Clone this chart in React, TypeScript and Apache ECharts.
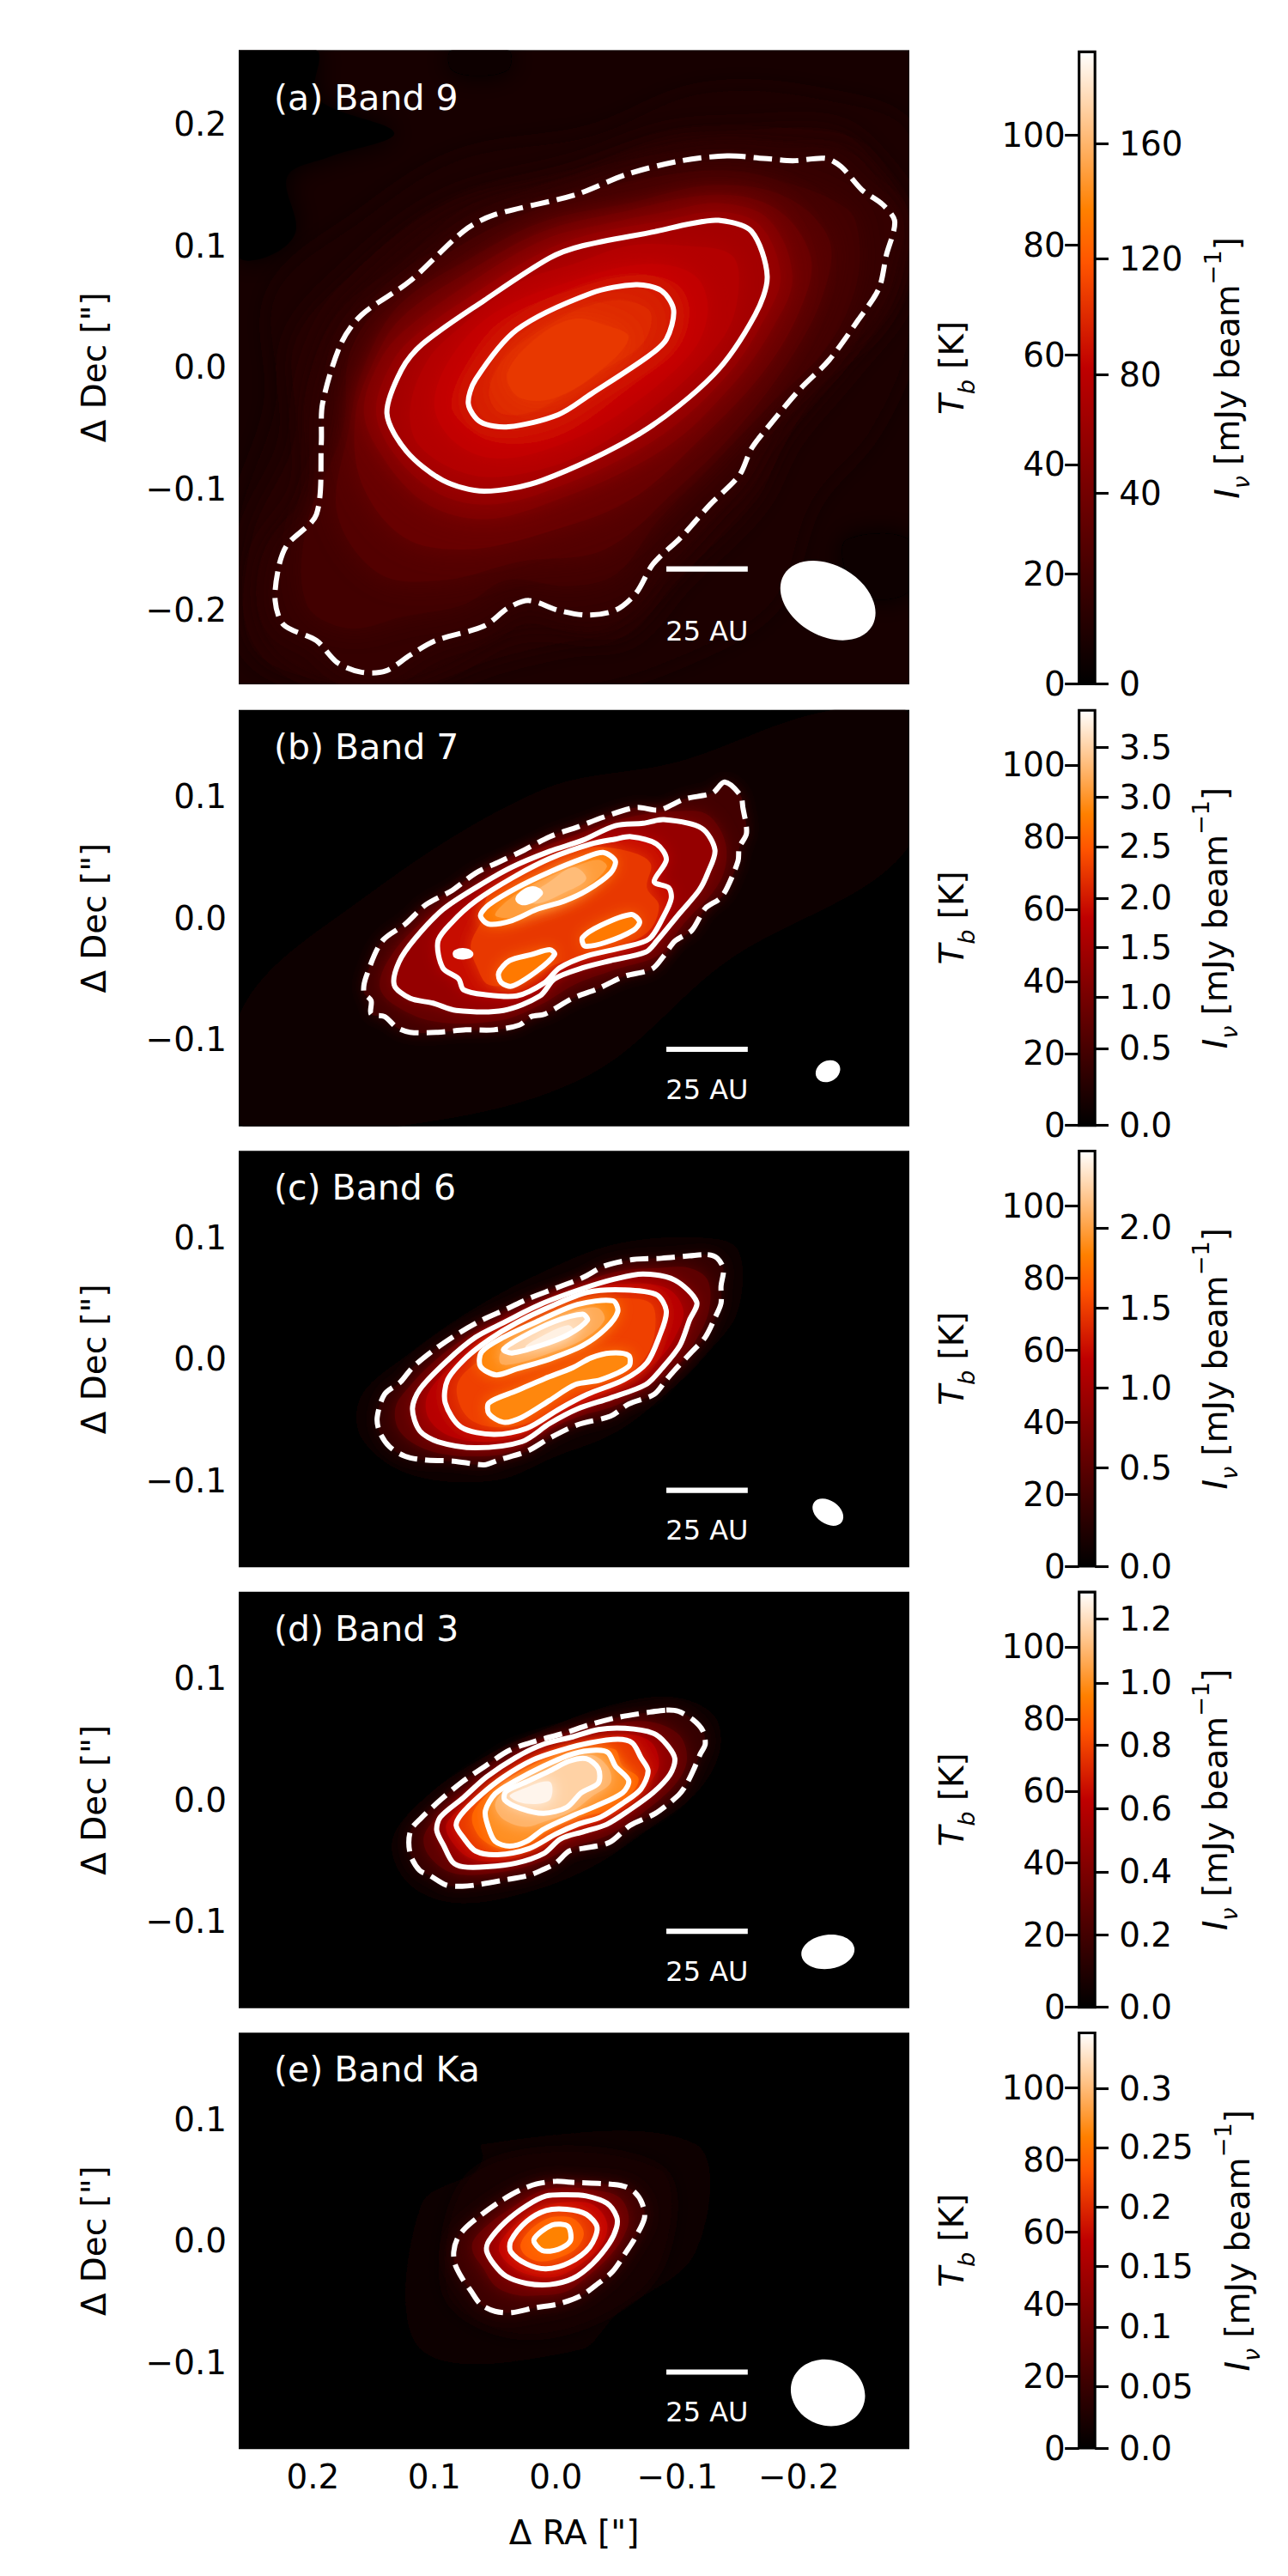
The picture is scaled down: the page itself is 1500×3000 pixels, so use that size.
import React, { useEffect, useRef } from "react";
import * as echarts from "echarts";

// All sky offsets below are in milli-arcseconds [dRA, dDec]; brightness levels in kelvin.
const T_MAX = 115.2;
const TB_TICKS = [0, 20, 40, 60, 80, 100];
const RA_TICKS = [-0.2, -0.1, 0, 0.1, 0.2];
const DEC_TICKS_WIDE = [-0.2, -0.1, 0, 0.1, 0.2];
const DEC_TICKS = [-0.1, 0, 0.1];

const ivLabelsA = ["0", "40", "80", "120", "160"];
const ivTbA = [0, 34.8, 56.4, 77.5, 98.4];
const ivLabelsB = ["0.0", "0.5", "1.0", "1.5", "2.0", "2.5", "3.0", "3.5"];
const ivTbB = [0, 21.4, 35.5, 49.4, 63.1, 77.4, 91.1, 105.0];
const ivLabelsC = ["0.0", "0.5", "1.0", "1.5", "2.0"];
const ivTbC = [0, 27.3, 49.4, 71.7, 93.9];
const ivLabelsD = ["0.0", "0.2", "0.4", "0.6", "0.8", "1.0", "1.2"];
const ivTbD = [0, 20.1, 37.6, 55.1, 72.7, 90.0, 107.7];
const ivLabelsE = ["0.0", "0.05", "0.1", "0.15", "0.2", "0.25", "0.3"];
const ivTbE = [0, 17.1, 33.6, 50.4, 66.9, 83.4, 99.7];

// ---- Band 9 ----
const a1 = [[-141,174],[-171,172],[-195,170],[-222,172],[-235,165],[-252,146],[-269,134],[-279,120],[-272,92],[-266,65],[-249,39],[-225,6],[-201,-18],[-174,-50],[-161,-67],[-151,-89],[-127,-113],[-103,-140],[-80,-162],[-66,-186],[-49,-200],[-26,-204],[-2,-200],[22,-192],[39,-198],[59,-213],[99,-225],[120,-237],[140,-250],[160,-251],[180,-243],[197,-225],[224,-212],[231,-192],[228,-164],[221,-146],[197,-121],[193,-62],[192,-30],[177,19],[160,43],[120,71],[76,112],[52,125],[-16,142],[-59,159],[-103,170]];
const a2 = [[-134,121],[-161,112],[-174,75],[-164,43],[-130,-6],[-70,-54],[11,-93],[59,-102],[93,-93],[123,-69],[139,-38],[127,-2],[110,19],[59,55],[5,90],[-22,100],[-83,112],[-110,118]];
const a3 = [[-66,68],[-87,63],[-97,47],[-91,23],[-76,9],[-29,-22],[-2,-39],[39,-49],[62,-45],[72,-30],[66,-10],[32,31],[-29,61]];
const aBase = [[261,261],[-291,261],[-291,-261],[261,-261]];
const aDarkTL = [[261,261],[197,261],[197,222],[133,193],[187,173],[221,157],[214,112],[235,92],[261,92]];
const aDarkTop = [[86,261],[39,261],[39,245],[65,240],[86,245]];
const aDarkBR = [[-239,-142],[-291,-142],[-291,-184],[-255,-190],[-239,-170]];
const aL11 = [[-120,225],[-220,220],[-291,190],[-291,30],[-260,-50],[-210,-110],[-180,-190],[-120,-230],[-20,-261],[261,-261],[261,-130],[230,-30],[230,60],[160,120],[80,170],[-30,190]];
const aL14 = [[-150,195],[-230,195],[-262,170],[-291,125],[-285,60],[-240,0],[-190,-60],[-165,-110],[-100,-175],[-60,-220],[-15,-225],[50,-240],[110,-261],[180,-261],[250,-230],[250,-140],[215,-60],[215,20],[170,75],[90,135],[-20,165],[-90,190]];
const aL17 = [[-145,185],[-200,182],[-245,175],[-265,150],[-285,120],[-280,80],[-260,35],[-215,0],[-185,-40],[-160,-88],[-115,-140],[-75,-185],[-40,-215],[5,-212],[40,-215],[95,-245],[140,-258],[180,-258],[235,-225],[242,-160],[205,-100],[205,-30],[190,25],[165,60],[85,125],[-15,155],[-90,180]];
const aL25 = [[-135,162],[-180,155],[-240,130],[-250,100],[-245,60],[-222,15],[-172,-35],[-125,-85],[-85,-125],[-50,-170],[-10,-180],[40,-175],[75,-195],[125,-205],[170,-215],[205,-195],[205,-130],[175,-50],[170,10],[145,50],[95,90],[40,120],[-40,148],[-90,158]];
const aL30 = [[-130,150],[-190,140],[-225,105],[-220,60],[-195,10],[-150,-50],[-100,-100],[-40,-150],[30,-160],[90,-175],[145,-170],[180,-120],[170,-50],[160,-5],[130,50],[70,90],[10,120],[-60,135]];
const aL35 = [[-132,142],[-182,130],[-210,90],[-200,45],[-170,-5],[-118,-60],[-60,-110],[15,-138],[75,-150],[125,-140],[160,-95],[165,-40],[152,0],[128,40],[70,80],[10,112],[-50,127]];
const aL40 = [[-135,135],[-175,122],[-195,75],[-180,35],[-145,-15],[-85,-70],[15,-115],[65,-125],[110,-110],[145,-70],[158,-35],[145,5],[125,30],[70,70],[10,105],[-40,118],[-90,128]];
const aL45 = [[-134,128],[-168,117],[-185,75],[-172,40],[-138,-10],[-78,-62],[13,-104],[62,-113],[100,-102],[134,-70],[148,-36],[136,2],[117,25],[65,62],[7,97],[-30,110],[-85,120]];
const aL54 = [[-105,100],[-145,92],[-150,60],[-138,25],[-90,-25],[-25,-70],[30,-88],[72,-88],[112,-65],[120,-35],[106,5],[80,32],[30,70],[-15,85],[-60,100]];
const aL58 = [[-75,85],[-115,75],[-125,45],[-110,10],[-50,-40],[0,-65],[50,-75],[85,-60],[100,-30],[85,10],[50,45],[-10,70]];
const aL61 = [[-70,76],[-100,68],[-110,46],[-100,15],[-63,-15],[-15,-50],[20,-62],[55,-60],[78,-45],[86,-30],[75,0],[45,38],[-20,66]];
const aL67 = [[-55,55],[-78,45],[-70,18],[-20,-12],[15,-35],[45,-38],[55,-20],[40,10],[0,38],[-25,50]];
const aL69 = [[-40,35],[-60,25],[-40,0],[0,-25],[30,-25],[40,-5],[15,25],[-15,40]];
const fillsA = [
  { tb: 7, ring: aBase }, { tb: 0, ring: aDarkTL }, { tb: 2, ring: aDarkTop }, { tb: 2, ring: aDarkBR },
  { tb: 9, ring: aL11 }, { tb: 11, ring: aL14 }, { tb: 13, ring: aL17 }, { tb: 16, ring: a1 }, { tb: 20, ring: aL25 }, { tb: 25, ring: aL30 },
  { tb: 31, ring: aL35 }, { tb: 37, ring: aL40 }, { tb: 43, ring: aL45 }, { tb: 49, ring: a2 }, { tb: 54, ring: aL54 }, { tb: 58, ring: aL58 },
  { tb: 61, ring: aL61 }, { tb: 64, ring: a3 }, { tb: 67, ring: aL67 }, { tb: 70, ring: aL69 },
];
const dashedA = [a1];
const solidA = [a2, a3];

// ---- Band 7 ----
const b1 = [[-139,112],[-152,101],[-154,91],[-157,70],[-151,58],[-150,47],[-141,25],[-135,16],[-123,8],[-112,-10],[-98,-19],[-89,-31],[-79,-42],[-56,-48],[-35,-58],[-14,-66],[9,-79],[20,-81],[30,-88],[51,-92],[74,-92],[97,-94],[120,-94],[131,-90],[141,-81],[152,-79],[152,-68],[158,-61],[156,-48],[143,-19],[124,-5],[107,11],[85,23],[66,37],[45,47],[26,56],[5,67],[-18,75],[-39,83],[-66,91],[-85,89],[-106,98],[-129,103]];
const b2 = [[-89,81],[-120,74],[-131,56],[-125,37],[-118,23],[-102,4],[-83,-19],[-74,-28],[-45,-35],[-22,-41],[1,-50],[13,-64],[43,-76],[82,-76],[101,-70],[120,-66],[133,-55],[129,-36],[116,-17],[93,7],[66,25],[36,42],[5,55],[-22,64],[-49,76],[-72,78]];
const b3 = [[-62,67],[-83,61],[-91,48],[-81,30],[-93,25],[-95,16],[-89,2],[-77,-17],[-56,-24],[-26,-31],[-3,-41],[9,-53],[32,-64],[59,-63],[76,-59],[80,-50],[93,-41],[97,-19],[85,-3],[66,14],[36,33],[5,49],[-29,61],[-49,65]];
const b4a = [[-39,54],[-49,47],[-45,37],[-26,23],[-7,14],[16,7],[36,-2],[55,-5],[62,2],[55,11],[32,25],[5,38],[-22,49]];
const b4b = [[-62,3],[-69,-3],[-64,-10],[-41,-20],[-24,-23],[-22,-16],[-37,-6]];
const b4c = [[5,-26],[1,-30],[16,-44],[36,-56],[45,-53],[47,-45],[38,-35],[20,-30]];
const b4d = [[82,-28],[74,-27],[70,-30],[76,-32],[82,-31]];
const b5 = [[15,23],[13,20],[24,13],[31,15],[28,20],[20,24]];
const bBand = [[258,-74],[166,11],[13,105],[-102,129],[-217,169],[-290,169],[-290,58],[-140,-36],[-26,-130],[127,-171],[258,-171]];
const bL30 = [[-125,85],[-140,60],[-135,30],[-105,-5],[-85,-30],[-50,-42],[-15,-55],[10,-70],[45,-84],[100,-85],[135,-70],[145,-55],[135,-30],[110,-3],[75,22],[35,48],[-15,68],[-60,83],[-100,88]];
const bL70 = [[-60,55],[-78,45],[-75,25],[-85,10],[-75,-12],[-40,-27],[0,-38],[25,-52],[55,-55],[65,-40],[70,-22],[60,0],[55,20],[15,45],[-25,58]];
const bL93 = [[-35,48],[-42,42],[-25,25],[-5,13],[25,3],[40,0],[50,3],[35,18],[10,32],[-15,42]];
const bL100 = [[-15,42],[-25,32],[-5,20],[15,12],[25,15],[5,30]];
const fillsB = [
  { tb: 3, ring: bBand }, { tb: 20, ring: b1 }, { tb: 30, ring: bL30 },
  { tb: 45, ring: b2 }, { tb: 60, ring: b3 }, { tb: 70, ring: bL70 },
  { tb: 85, ring: b4a }, { tb: 85, ring: b4b }, { tb: 85, ring: b4c },
  { tb: 93, ring: bL93 }, { tb: 100, ring: bL100 },
];
const dashedB = [b1];
const solidB = [b2, b3, b4a, b4b, b4c, b4d, b5];
const whiteDotsB = [b4d, b5];

// ---- Band 6 ----
const c1 = [[-125,86],[-133,83],[-138,74],[-136,60],[-136,46],[-131,34],[-123,18],[-112,6],[-97,-10],[-91,-17],[-81,-29],[-60,-37],[-45,-47],[-18,-54],[5,-65],[24,-76],[47,-83],[59,-87],[84,-84],[108,-83],[124,-80],[137,-72],[145,-60],[147,-48],[141,-29],[128,-19],[118,-7],[101,7],[82,20],[61,32],[41,41],[22,50],[1,58],[-22,67],[-41,77],[-64,82],[-87,83],[-110,85]];
const c2 = [[-72,70],[-98,65],[-116,47],[-110,32],[-102,11],[-87,-8],[-74,-21],[-45,-32],[-18,-41],[5,-53],[28,-68],[66,-73],[97,-68],[112,-59],[118,-41],[112,-25],[89,-1],[66,18],[43,30],[13,45],[-22,58],[-49,66]];
const c3 = [[-56,57],[-83,53],[-91,39],[-85,18],[-75,-3],[-56,-17],[-26,-29],[-3,-41],[24,-57],[51,-62],[78,-56],[91,-36],[89,-17],[74,1],[55,16],[32,30],[5,43],[-26,55]];
const c4a = [[-47,48],[-51,39],[-41,25],[-22,11],[5,0],[32,-8],[49,-13],[62,-6],[61,6],[43,18],[13,32],[-18,45]];
const c4b = [[-45,5],[-60,3],[-60,-6],[-37,-17],[-16,-21],[5,-34],[28,-48],[43,-52],[55,-45],[55,-36],[32,-26],[9,-16],[-14,-7],[-29,1]];
const c5 = [[-22,37],[-26,32],[-10,20],[13,11],[36,5],[43,8],[28,18],[1,31]];
const cGlow = [[-120,100],[-150,90],[-150,40],[-125,5],[-95,-25],[-50,-60],[0,-80],[50,-100],[120,-95],[160,-65],[160,-30],[120,5],[70,40],[10,72],[-50,95]];
const cL30 = [[-110,75],[-125,65],[-126,40],[-115,15],[-100,-5],[-75,-23],[-50,-38],[-20,-47],[10,-60],[35,-76],[70,-80],[105,-75],[128,-60],[132,-40],[120,-22],[98,0],[75,17],[50,30],[22,43],[-15,60],[-50,72],[-85,75]];
const cL55 = [[-60,62],[-92,58],[-105,40],[-98,18],[-85,0],[-62,-18],[-32,-32],[0,-46],[28,-62],[58,-68],[88,-63],[105,-48],[105,-28],[82,-2],[60,17],[37,30],[8,44],[-25,57]];
const cL72 = [[-52,50],[-78,46],[-82,28],[-76,5],[-60,-12],[-30,-24],[-5,-37],[20,-52],[50,-56],[70,-50],[80,-35],[80,-18],[62,0],[45,14],[10,35],[-22,47]];
const cL96 = [[-35,42],[-40,32],[-22,16],[5,5],[30,-3],[45,-4],[45,6],[28,16],[5,28],[-18,40]];
const cL112 = [[-10,28],[-15,22],[10,12],[25,10],[15,17]];
const fillsC = [
  { tb: 3, ring: cGlow }, { tb: 15, ring: c1 }, { tb: 28, ring: cL30 }, { tb: 43, ring: c2 }, { tb: 55, ring: cL55 },
  { tb: 65, ring: c3 }, { tb: 72, ring: cL72 }, { tb: 88, ring: c4a }, { tb: 88, ring: c4b },
  { tb: 96, ring: cL96 }, { tb: 106, ring: c5 }, { tb: 112, ring: cL112 },
];
const dashedC = [c1];
const solidC = [c2, c3, c4a, c4b, c5];

// ---- Band 3 ----
const d1 = [[-91,74],[-101,73],[-113,66],[-121,57],[-123,46],[-119,38],[-113,24],[-107,12],[-101,4],[-82,-11],[-61,-21],[-44,-35],[-21,-40],[-11,-42],[0,-52],[10,-57],[22,-62],[43,-66],[66,-70],[77,-71],[90,-70],[104,-62],[112,-58],[119,-47],[121,-35],[119,-24],[111,-15],[95,0],[77,15],[58,28],[38,41],[15,49],[-7,55],[-28,62],[-51,68],[-75,72]];
const d2 = [[-57,59],[-80,55],[-91,46],[-98,34],[-94,21],[-80,6],[-61,-8],[-42,-20],[-23,-26],[-4,-32],[10,-44],[33,-52],[57,-55],[76,-55],[85,-51],[92,-38],[98,-25],[95,-14],[76,2],[57,19],[33,35],[10,46],[-14,52],[-35,58]];
const d3 = [[-51,50],[-63,47],[-70,35],[-76,24],[-70,9],[-56,-2],[-37,-14],[-18,-20],[0,-28],[22,-40],[48,-45],[66,-42],[76,-31],[82,-21],[78,-12],[62,4],[43,19],[19,33],[-4,41],[-28,47]];
const d4 = [[-43,39],[-49,28],[-60,16],[-55,6],[-33,-5],[-16,-12],[10,-24],[24,-34],[38,-38],[50,-34],[56,-21],[58,-9],[50,5],[33,16],[10,28],[-14,38],[-33,41]];
const d5 = [[-25,34],[-35,26],[-35,14],[-21,6],[-9,-6],[10,-11],[29,-7],[42,0],[41,7],[24,15],[5,24],[-11,32]];
const dGlow = [[-95,85],[-130,70],[-135,40],[-115,5],[-75,-25],[-30,-55],[20,-75],[80,-85],[120,-70],[135,-35],[110,0],[60,35],[10,58],[-45,78]];
const dL30 = [[-70,65],[-100,55],[-108,35],[-100,15],[-75,-8],[-45,-28],[-10,-40],[15,-52],[50,-60],[85,-60],[105,-45],[108,-28],[90,-7],[65,15],[40,32],[10,47],[-25,56]];
const dL55 = [[-55,54],[-78,48],[-85,30],[-78,15],[-60,-5],[-35,-18],[-8,-27],[15,-40],[45,-50],[70,-48],[85,-35],[90,-20],[70,0],[50,17],[25,33],[-5,45]];
const dL80 = [[-48,42],[-55,28],[-68,18],[-62,5],[-45,-8],[-17,-15],[5,-25],[25,-37],[45,-40],[60,-33],[68,-21],[68,-10],[56,5],[38,18],[15,31],[-10,40]];
const dL98 = [[-30,37],[-43,27],[-45,14],[-30,3],[-14,-9],[10,-18],[25,-22],[43,-16],[50,-5],[45,5],[28,14],[7,25],[-12,34]];
const dL113 = [[5,15],[30,8],[38,3],[25,-3],[5,0]];
const fillsD = [
  { tb: 3, ring: dGlow }, { tb: 16, ring: d1 }, { tb: 28, ring: dL30 }, { tb: 42, ring: d2 }, { tb: 55, ring: dL55 },
  { tb: 70, ring: d3 }, { tb: 80, ring: dL80 }, { tb: 90, ring: d4 }, { tb: 98, ring: dL98 }, { tb: 105, ring: d5 }, { tb: 113, ring: dL113 },
];
const dashedD = [d1];
const solidD = [d2, d3, d4, d5];

// ---- Band Ka ----
const e1 = [[0,49],[-16,48],[-40,47],[-56,45],[-65,40],[-71,31],[-73,19],[-65,2],[-58,-9],[-47,-25],[-35,-35],[-21,-45],[-2,-52],[17,-55],[36,-59],[50,-58],[62,-52],[70,-41],[77,-31],[83,-19],[84,-9],[81,2],[74,11],[62,21],[45,33],[29,42],[15,47]];
const e2 = [[-9,38],[-25,37],[-42,31],[-50,20],[-50,11],[-44,-2],[-30,-19],[-14,-31],[5,-36],[24,-35],[41,-29],[51,-19],[57,-8],[55,0],[41,16],[24,29],[8,37]];
const e3 = [[-9,26],[-25,22],[-34,11],[-28,-5],[-11,-18],[8,-23],[24,-19],[37,-9],[37,0],[24,16],[8,25]];
const e4 = [[3,13],[-10,12],[-12,0],[-2,-7],[11,-8],[18,1]];
const eBroad = [[111,-90],[111,30],[60,60],[60,80],[-115,80],[-115,-10],[-50,-60],[-20,-90]];
const eGlow = [[62,59],[-85,59],[-85,-20],[-30,-65],[40,-75],[90,-40]];
const eL30 = [[-5,44],[-30,42],[-52,36],[-60,20],[-55,2],[-42,-15],[-25,-30],[-8,-42],[15,-45],[35,-44],[50,-37],[60,-22],[68,-10],[68,0],[55,14],[35,28],[15,40]];
const eL58 = [[-8,32],[-30,30],[-42,15],[-38,-3],[-22,-18],[-2,-29],[18,-29],[35,-22],[46,-10],[45,0],[30,16],[10,28]];
const eL78 = [[0,20],[-15,18],[-23,7],[-18,-5],[-5,-13],[12,-17],[25,-12],[29,-3],[20,10],[8,18]];
const fillsE = [
  { tb: 2, ring: eBroad }, { tb: 6, ring: eGlow }, { tb: 18, ring: e1 }, { tb: 30, ring: eL30 }, { tb: 45, ring: e2 },
  { tb: 58, ring: eL58 }, { tb: 68, ring: e3 }, { tb: 78, ring: eL78 }, { tb: 87, ring: e4 },
];
const dashedE = [e1];
const solidE = [e2, e3, e4];

// Restoring beams: [dRA, dDec, semi-major, semi-minor, angle in degrees]
const beamA = [-224, -192, 42, 29, -30];
const beamB = [-224, -126, 10.6, 8.5, 30];
const beamC = [-224, -126, 14, 9.5, -35];
const beamD = [-224, -125, 22, 14, 8];
const beamE = [-224, -125, 31, 27, -20];
// Scale bar (25 AU): dRA from, dRA to
const scaleBarRA = [-91, -158];

const titles = ["(a) Band 9", "(b) Band 7", "(c) Band 6", "(d) Band 3", "(e) Band Ka"];
const FONT = "DejaVu Sans";
const FS = 38.9;

function gistHeat(tb: number) {
  const x = Math.min(1, Math.max(0, tb / T_MAX));
  const ch = (v: number) => Math.round(255 * Math.min(1, Math.max(0, v)));
  return `rgb(${ch(1.5 * x)},${ch(2 * x - 1)},${ch(4 * x - 3)})`;
}

const panels = [
  { top: 58.5, h: 738.5, ylim: 0.261, decTicks: DEC_TICKS_WIDE, fills: fillsA, dashed: dashedA, solid: solidA, dots: [] as number[][][], beam: beamA, barDec: -166, barLabelDec: -217, titleDec: 222, blur: 30, iv: ivLabelsA, ivTb: ivTbA, ivGap: 124, cbH: 736, cbBottom: 796.4 },
  { top: 826.7, h: 485, ylim: 0.1714, decTicks: DEC_TICKS, fills: fillsB, dashed: dashedB, solid: solidB, dots: whiteDotsB, beam: beamB, barDec: -108, barLabelDec: -141, titleDec: 141, blur: 18, iv: ivLabelsB, ivTb: ivTbB, ivGap: 110, cbH: 483.5, cbBottom: 1310.7 },
  { top: 1340.3, h: 485, ylim: 0.1714, decTicks: DEC_TICKS, fills: fillsC, dashed: dashedC, solid: solidC, dots: [], beam: beamC, barDec: -108, barLabelDec: -141, titleDec: 141, blur: 18, iv: ivLabelsC, ivTb: ivTbC, ivGap: 110, cbH: 483.5, cbBottom: 1824 },
  { top: 1853.8, h: 485, ylim: 0.1714, decTicks: DEC_TICKS, fills: fillsD, dashed: dashedD, solid: solidD, dots: [], beam: beamD, barDec: -108, barLabelDec: -141, titleDec: 141, blur: 18, iv: ivLabelsD, ivTb: ivTbD, ivGap: 110, cbH: 483.5, cbBottom: 2337.6 },
  { top: 2367.2, h: 485, ylim: 0.1714, decTicks: DEC_TICKS, fills: fillsE, dashed: dashedE, solid: solidE, dots: [], beam: beamE, barDec: -108, barLabelDec: -141, titleDec: 141, blur: 22, iv: ivLabelsE, ivTb: ivTbE, ivGap: 136, cbH: 483.5, cbBottom: 2851 },
];

function toPts(api: any, ring: number[][]) {
  return ring.map((p) => api.coord([p[0] / 1000, p[1] / 1000]));
}

function buildOption() {
  const grid: any[] = [];
  const xAxis: any[] = [];
  const yAxis: any[] = [];
  const series: any[] = [];
  const tickStyle = { length: 13.6, lineStyle: { color: "#000", width: 3.1 } };
  const labelBase = { color: "#000", fontFamily: FONT, fontSize: FS };
  const richBase = {
    i: { fontFamily: FONT, fontSize: FS, fontStyle: "italic", color: "#000", lineHeight: 60, verticalAlign: "middle" },
    n: { fontFamily: FONT, fontSize: FS, color: "#000", lineHeight: 60, verticalAlign: "middle" },
    d: { fontFamily: FONT, fontSize: 27.2, fontStyle: "italic", color: "#000", lineHeight: 27, verticalAlign: "bottom" },
    u: { fontFamily: FONT, fontSize: 27.2, color: "#000", lineHeight: 27, verticalAlign: "top" },
  };

  panels.forEach((p, k) => {
    const last = k === panels.length - 1;
    const gi = grid.length;
    grid.push({ left: 278, top: p.top, width: 781, height: p.h, show: true, backgroundColor: "#000", borderWidth: 0, outerBoundsMode: "none" });
    const xi = xAxis.length;
    xAxis.push({
      gridIndex: gi, type: "value", min: -0.291, max: 0.261, inverse: true, position: "bottom",
      splitLine: { show: false }, axisLine: { show: false },
      axisTick: { ...tickStyle, customValues: RA_TICKS },
      axisLabel: { show: last, ...labelBase, margin: 13, customValues: RA_TICKS, formatter: (v: number) => fmtSky(v) },
      name: last ? 'Δ RA ["]' : "", nameLocation: "middle", nameGap: 78, nameMoveOverlap: false,
      nameTextStyle: { ...labelBase },
    });
    const yi = yAxis.length;
    yAxis.push({
      gridIndex: gi, type: "value", min: -p.ylim, max: p.ylim, position: "left",
      splitLine: { show: false }, axisLine: { show: false },
      axisTick: { ...tickStyle, customValues: p.decTicks },
      axisLabel: { ...labelBase, margin: 14, customValues: p.decTicks, formatter: (v: number) => fmtSky(v) },
      name: 'Δ Dec ["]', nameLocation: "middle", nameRotate: 90, nameGap: 149, nameMoveOverlap: false,
      nameTextStyle: { ...labelBase },
    });

    // filled brightness levels
    series.push({
      type: "custom", xAxisIndex: xi, yAxisIndex: yi, clip: true, silent: true,
      data: p.fills.map((f) => [f.ring[0][0] / 1000, f.ring[0][1] / 1000, f.tb]),
      renderItem: (params: any, api: any) => {
        const f = p.fills[params.dataIndex];
        const c = gistHeat(f.tb);
        return { type: "polygon", shape: { points: toPts(api, f.ring), smooth: f.ring.length > 4 ? 0.35 : 0 },
          style: { fill: c, shadowBlur: f.ring.length > 4 ? p.blur : 0, shadowColor: c } };
      },
    });
    // contours
    const lines = [...p.dashed.map((r) => ({ r, dash: true })), ...p.solid.map((r) => ({ r, dash: false }))];
    series.push({
      type: "custom", xAxisIndex: xi, yAxisIndex: yi, clip: true, silent: true,
      data: lines.map((l) => [l.r[0][0] / 1000, l.r[0][1] / 1000]),
      renderItem: (params: any, api: any) => {
        const l = lines[params.dataIndex];
        const dot = p.dots.indexOf(l.r) >= 0;
        return { type: "polygon", shape: { points: toPts(api, l.r), smooth: dot ? 0.5 : 0.3 },
          style: { fill: dot ? "#fff" : "none", stroke: "#fff", lineWidth: 6, lineJoin: "round", lineDash: l.dash ? [21.6, 9.3] : null } };
      },
    });
    // title, scale bar, beam
    series.push({
      type: "custom", xAxisIndex: xi, yAxisIndex: yi, clip: false, silent: true,
      data: [[p.beam[0] / 1000, p.beam[1] / 1000]],
      renderItem: (_: any, api: any) => {
        const b0 = api.coord([scaleBarRA[0] / 1000, p.barDec / 1000]);
        const b1p = api.coord([scaleBarRA[1] / 1000, p.barDec / 1000]);
        const lbl = api.coord([(scaleBarRA[0] + scaleBarRA[1]) / 2000, p.barLabelDec / 1000]);
        const ttl = api.coord([0.232, p.titleDec / 1000]);
        const c = api.coord([p.beam[0] / 1000, p.beam[1] / 1000]);
        const s = api.size([p.beam[2] / 1000, p.beam[3] / 1000]);
        return {
          type: "group",
          children: [
            { type: "line", shape: { x1: b0[0], y1: b0[1], x2: b1p[0], y2: b1p[1] }, style: { stroke: "#fff", lineWidth: 6.2 } },
            { type: "text", style: { x: lbl[0], y: lbl[1], text: "25 AU", fill: "#fff", font: `32px "${FONT}"`, align: "center", verticalAlign: "middle" } },
            { type: "text", style: { x: ttl[0], y: ttl[1], text: titles[k], fill: "#fff", font: `41px "${FONT}"`, align: "left", verticalAlign: "middle" } },
            { type: "ellipse", x: c[0], y: c[1], rotation: (p.beam[4] * Math.PI) / 180, shape: { cx: 0, cy: 0, rx: s[0], ry: s[1] }, style: { fill: "#fff" } },
          ],
        };
      },
    });

    // colour bar
    const cbg = grid.length;
    grid.push({ left: 1256.7, top: p.cbBottom - p.cbH, width: 18.5, height: p.cbH, show: false, outerBoundsMode: "none" });
    const cbx = xAxis.length;
    xAxis.push({ gridIndex: cbg, type: "value", min: 0, max: 1, show: false });
    const cbl = yAxis.length;
    yAxis.push({
      gridIndex: cbg, type: "value", min: 0, max: T_MAX, position: "left",
      splitLine: { show: false }, axisLine: { show: false },
      axisTick: { length: 16.5, lineStyle: { color: "#000", width: 3.1 }, customValues: TB_TICKS },
      axisLabel: { ...labelBase, margin: 16, customValues: TB_TICKS, formatter: (v: number) => String(v) },
      name: "{i|T}{d|b}{n| [K]}", nameLocation: "middle", nameRotate: 90, nameGap: 118, nameMoveOverlap: false,
      nameTextStyle: { ...labelBase, rich: richBase },
    });
    yAxis.push({
      gridIndex: cbg, type: "value", min: 0, max: T_MAX, position: "right",
      splitLine: { show: false }, axisLine: { show: false },
      axisTick: { length: 15.8, lineStyle: { color: "#000", width: 3.1 }, customValues: p.ivTb },
      axisLabel: { ...labelBase, margin: 28, customValues: p.ivTb, formatter: (v: number) => p.iv[p.ivTb.indexOf(v)] ?? "" },
      name: "{i|I}{d|ν}{n| [mJy beam}{u|−1}{n|]}", nameLocation: "middle", nameRotate: 90, nameGap: p.ivGap, nameMoveOverlap: false,
      nameTextStyle: { ...labelBase, rich: richBase },
    });
    series.push({
      type: "custom", xAxisIndex: cbx, yAxisIndex: cbl, clip: false, silent: true,
      data: [[0, 0], [1, T_MAX]],
      renderItem: (params: any, api: any) => {
        if (params.dataIndex !== 0) return null;
        const a = api.coord([0, 0]);
        const b = api.coord([1, T_MAX]);
        const stops = [0, 0.25, 0.5, 0.6667, 0.75, 0.875, 1].map((o) => ({ offset: o, color: gistHeat(o * T_MAX) }));
        const rect = { x: a[0], y: b[1], width: b[0] - a[0], height: a[1] - b[1] };
        return {
          type: "group",
          children: [
            { type: "rect", shape: rect, style: { fill: new echarts.graphic.LinearGradient(0, 1, 0, 0, stops) } },
            { type: "rect", shape: rect, style: { fill: "none", stroke: "#000", lineWidth: 3.1 } },
          ],
        };
      },
    });
  });

  return { animation: false, backgroundColor: "#fff", grid, xAxis, yAxis, series };
}

function fmtSky(v: number) {
  const s = Math.abs(v) < 1e-9 ? "0.0" : v.toFixed(1);
  return s.replace("-", "−");
}

export default function App() {
  const ref = useRef<HTMLDivElement>(null);
  useEffect(() => {
    document.body.style.margin = "0";
    const chart = echarts.init(ref.current!, undefined, { renderer: "svg", width: 1500, height: 3000 });
    chart.setOption(buildOption() as any);
    return () => chart.dispose();
  }, []);
  return <div ref={ref} style={{ width: 1500, height: 3000 }} />;
}
